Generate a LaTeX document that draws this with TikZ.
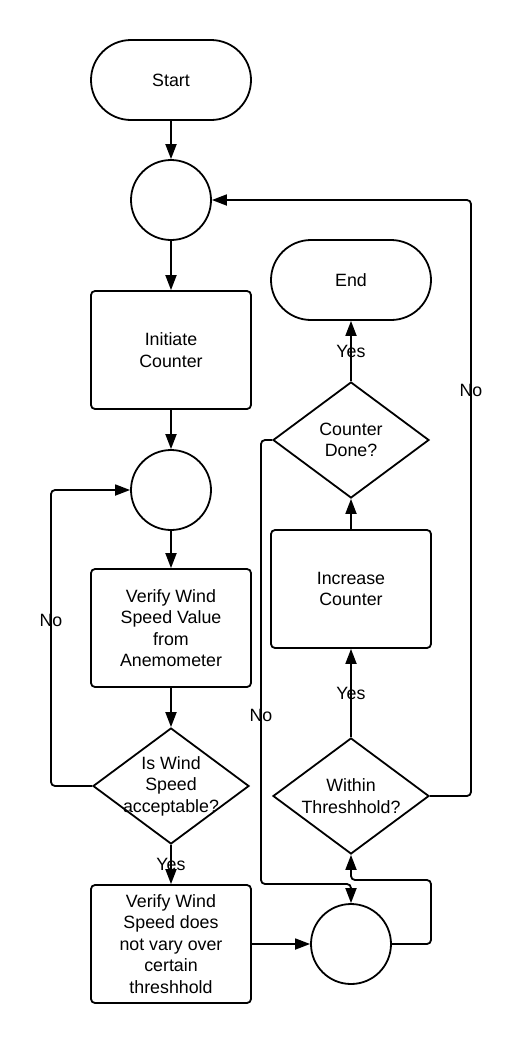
\documentclass[tikz,border=0pt]{standalone}
\usepackage{fontspec}
\setmainfont{Liberation Sans}
\usetikzlibrary{shapes.geometric,arrows.meta}
\begin{document}
\begin{tikzpicture}[x=1pt,y=-1pt, line width=1.8pt,
  every node/.style={font=\fontsize{17.8}{21.5}\selectfont, inner sep=0pt},
  term/.style={draw, rectangle, rounded corners=40pt, minimum width=160pt, minimum height=80pt},
  proc/.style={draw, rectangle, rounded corners=4pt, minimum width=160pt, minimum height=118pt, align=center},
  junc/.style={draw, circle, minimum size=80pt},
  dec/.style={draw, diamond, minimum width=156pt, minimum height=116pt},
  flow/.style={-{Triangle[length=15pt,width=11pt]}, rounded corners=4pt},
  lbl/.style={font=\fontsize{17.8}{21.5}\selectfont}]
\useasboundingbox (0,0) rectangle (523,1050);
% nodes
\node[term] (start) at (171,80) {Start};
\node[junc] (c1) at (171,200) {};
\node[proc] (init) at (171,350) {Initiate\\Counter};
\node[junc] (c2) at (171,490) {};
\node[proc] (verify) at (171,628) {Verify Wind\\Speed Value\\from\\Anemometer};
\node[dec, label={[align=center]center:Is Wind\\Speed\\acceptable?}] (d1) at (171,786) {};
\node[proc] (vary) at (171,944) {Verify Wind\\Speed does\\not vary over\\certain\\threshhold};
\node[junc] (c3) at (351,944) {};
\node[dec, label={[align=center]center:Within\\Threshhold?}] (d2) at (351,796) {};
\node[proc] (inc) at (351,589) {Increase\\Counter};
\node[dec, label={[align=center]center:Counter\\Done?}] (d3) at (351,440) {};
\node[term] (end) at (351,280) {End};
% connectors
\draw[flow] (start.south) -- (c1.north);
\draw[flow] (c1.south) -- (init.north);
\draw[flow] (init.south) -- (c2.north);
\draw[flow] (c2.south) -- (verify.north);
\draw[flow] (verify.south) -- (d1.north);
\draw[flow] (d1.south) -- node[lbl]{Yes} (vary.north);
\draw[flow] (d1.west) -- (51,786) -- node[lbl,pos=0.56]{No} (51,490) -- (c2.west);
\draw[flow] (vary.east) -- (c3.west);
\draw[flow] (c3.east) -- (431,944) -- (431,880) -- (351,880) -- (d2.south);
\draw[flow] (d2.north) -- node[lbl]{Yes} (inc.south);
\draw[flow] (inc.north) -- (d3.south);
\draw[flow] (d3.north) -- node[lbl]{Yes} (end.south);
\draw[flow] (d2.east) -- (471,796) -- node[lbl,pos=0.68]{No} (471,200) -- (c1.east);
\draw[flow] (d3.west) -- (261,440) -- node[lbl,pos=0.62]{No} (261,884) -- (351,884) -- (c3.north);
\end{tikzpicture}
\end{document}
